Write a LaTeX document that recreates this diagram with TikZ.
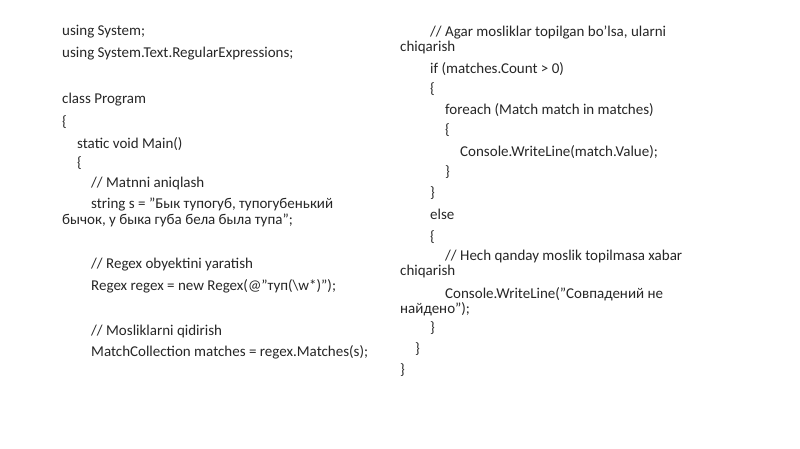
\documentclass[tikz,border=0pt]{standalone}
\usepackage{fontspec}
\setmainfont{Carlito}
\begin{document}
\begin{tikzpicture}[x=1pt,y=-1pt,t/.style={anchor=west,inner sep=0pt,font=\fontsize{15}{17}\selectfont,text=black!85}]
\useasboundingbox (0,0) rectangle (800,449);
\node[t] (l1) at (62,32) {using System;};
\node[t] (l2) at (62,54) {using System.Text.RegularExpressions;};
\node[t] (l3) at (62,100) {class Program};
\node[t] (l4) at (62,122) {\{};
\node[t] (l5) at (77,144) {static void Main()};
\node[t] (l6) at (77,163) {\{};
\node[t] (l7) at (91,184) {// Matnni aniqlash};
\node[t] (l8) at (91,205) {string s = "Бык тупогуб, тупогубенький};
\node[t] (l9) at (62,220) {бычок, у быка губа бела была тупа";};
\node[t] (l10) at (91,265) {// Regex obyektini yaratish};
\node[t] (l11) at (91,286) {Regex regex = new Regex(@"туп(\textbackslash w*)");};
\node[t] (l12) at (91,331) {// Mosliklarni qidirish};
\node[t] (l13) at (91,352) {MatchCollection matches = regex.Matches(s);};
\node[t] (r1) at (430,33) {// Agar mosliklar topilgan bo'lsa, ularni};
\node[t] (r2) at (400,48) {chiqarish};
\node[t] (r3) at (430,69) {if (matches.Count > 0)};
\node[t] (r4) at (430,89) {\{};
\node[t] (r5) at (445,110) {foreach (Match match in matches)};
\node[t] (r6) at (445,130) {\{};
\node[t] (r7) at (460,152) {Console.WriteLine(match.Value);};
\node[t] (r8) at (445,172) {\}};
\node[t] (r9) at (430,193) {\}};
\node[t] (r10) at (430,214) {else};
\node[t] (r11) at (430,237) {\{};
\node[t] (r12) at (445,257) {// Hech qanday moslik topilmasa xabar};
\node[t] (r13) at (400,272) {chiqarish};
\node[t] (r14) at (445,294) {Console.WriteLine("Совпадений не};
\node[t] (r15) at (400,309) {найдено");};
\node[t] (r16) at (430,328) {\}};
\node[t] (r17) at (415,349) {\}};
\node[t] (r18) at (400,370) {\}};
\end{tikzpicture}
\end{document}
